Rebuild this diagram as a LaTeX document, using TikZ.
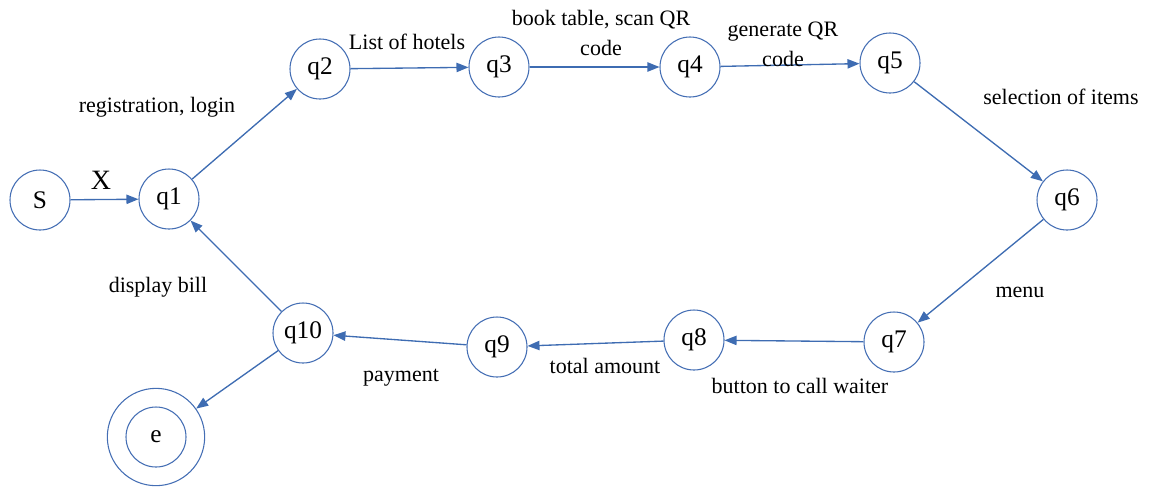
\documentclass[tikz,border=0pt]{standalone}
\usepackage{fontspec}
\setmainfont{Liberation Serif}
\usetikzlibrary{arrows.meta}
\definecolor{stateblue}{RGB}{68,110,180}
\definecolor{lineblue}{RGB}{62,108,178}
\begin{document}
\begin{tikzpicture}[x=0.75pt,y=0.75pt,yscale=-1,xscale=1,
    state/.style={circle, draw=stateblue, line width=0.8pt, minimum size=45pt, inner sep=0pt, font=\fontsize{19}{19}\selectfont},
    lbl/.style={inner sep=0.75pt, align=center, font=\fontsize{16.5}{22.5}\selectfont},
    trans/.style={draw=lineblue, line width=1pt, -{Triangle[length=9pt,width=7pt]}}]
    \useasboundingbox (0,0) rectangle (1149,487);

    %Shape: Circle [states]
    \node [state] (s) at (40,200) {S};
    \node [state] (q1) at (169,199) {q1};
    \node [state] (q2) at (320,69) {q2};
    \node [state] (q3) at (499,67) {q3};
    \node [state] (q4) at (690,67) {q4};
    \node [state] (q5) at (890,63) {q5};
    \node [state] (q6) at (1067,200) {q6};
    \node [state] (q7) at (894,342) {q7};
    \node [state] (q8) at (694,340) {q8};
    \node [state] (q9) at (497,347) {q9};
    \node [state] (q10) at (303,333) {q10};
    %Shape: Circle [final state]
    \node [state] (e) at (156,437) {e};
    \node [circle, draw=stateblue, line width=0.8pt, minimum size=73pt, inner sep=0pt] (eout) at (156,437) {};

    %Straight Lines
    \draw [trans] (s) -- (q1);
    \draw [trans] (q1) -- (q2);
    \draw [trans] (q2) -- (q3);
    \draw [trans] (q3) -- (q4);
    \draw [trans] (q4) -- (q5);
    \draw [trans] (q5) -- (q6);
    \draw [trans] (q6) -- (q7);
    \draw [trans] (q7) -- (q8);
    \draw [trans] (q8) -- (q9);
    \draw [trans] (q9) -- (q10);
    \draw [trans] (q10) -- (q1);
    \draw [trans] (q10) -- (eout);

    % Text Node
    \node [lbl, font=\fontsize{21}{21}\selectfont] (lx) at (101,180) {X};
    % Text Node
    \node [lbl] (lreg) at (157,107) {registration, login};
    % Text Node
    \node [lbl] (lhot) at (407,42) {List of hotels};
    % Text Node
    \node [lbl] (lbook) at (601,33) {book table, scan QR\\code};
    % Text Node
    \node [lbl] (lgen) at (783,44) {generate QR\\code};
    % Text Node
    \node [lbl] (lsel) at (1061,97) {selection of items};
    % Text Node
    \node [lbl] (lmenu) at (1020,292) {menu};
    % Text Node
    \node [lbl] (lbtn) at (800,386) {button to call waiter};
    % Text Node
    \node [lbl] (ltot) at (605,366) {total amount};
    % Text Node
    \node [lbl] (lpay) at (401,378) {payment};
    % Text Node
    \node [lbl] (lbill) at (158,287) {display bill};

\end{tikzpicture}
\end{document}
